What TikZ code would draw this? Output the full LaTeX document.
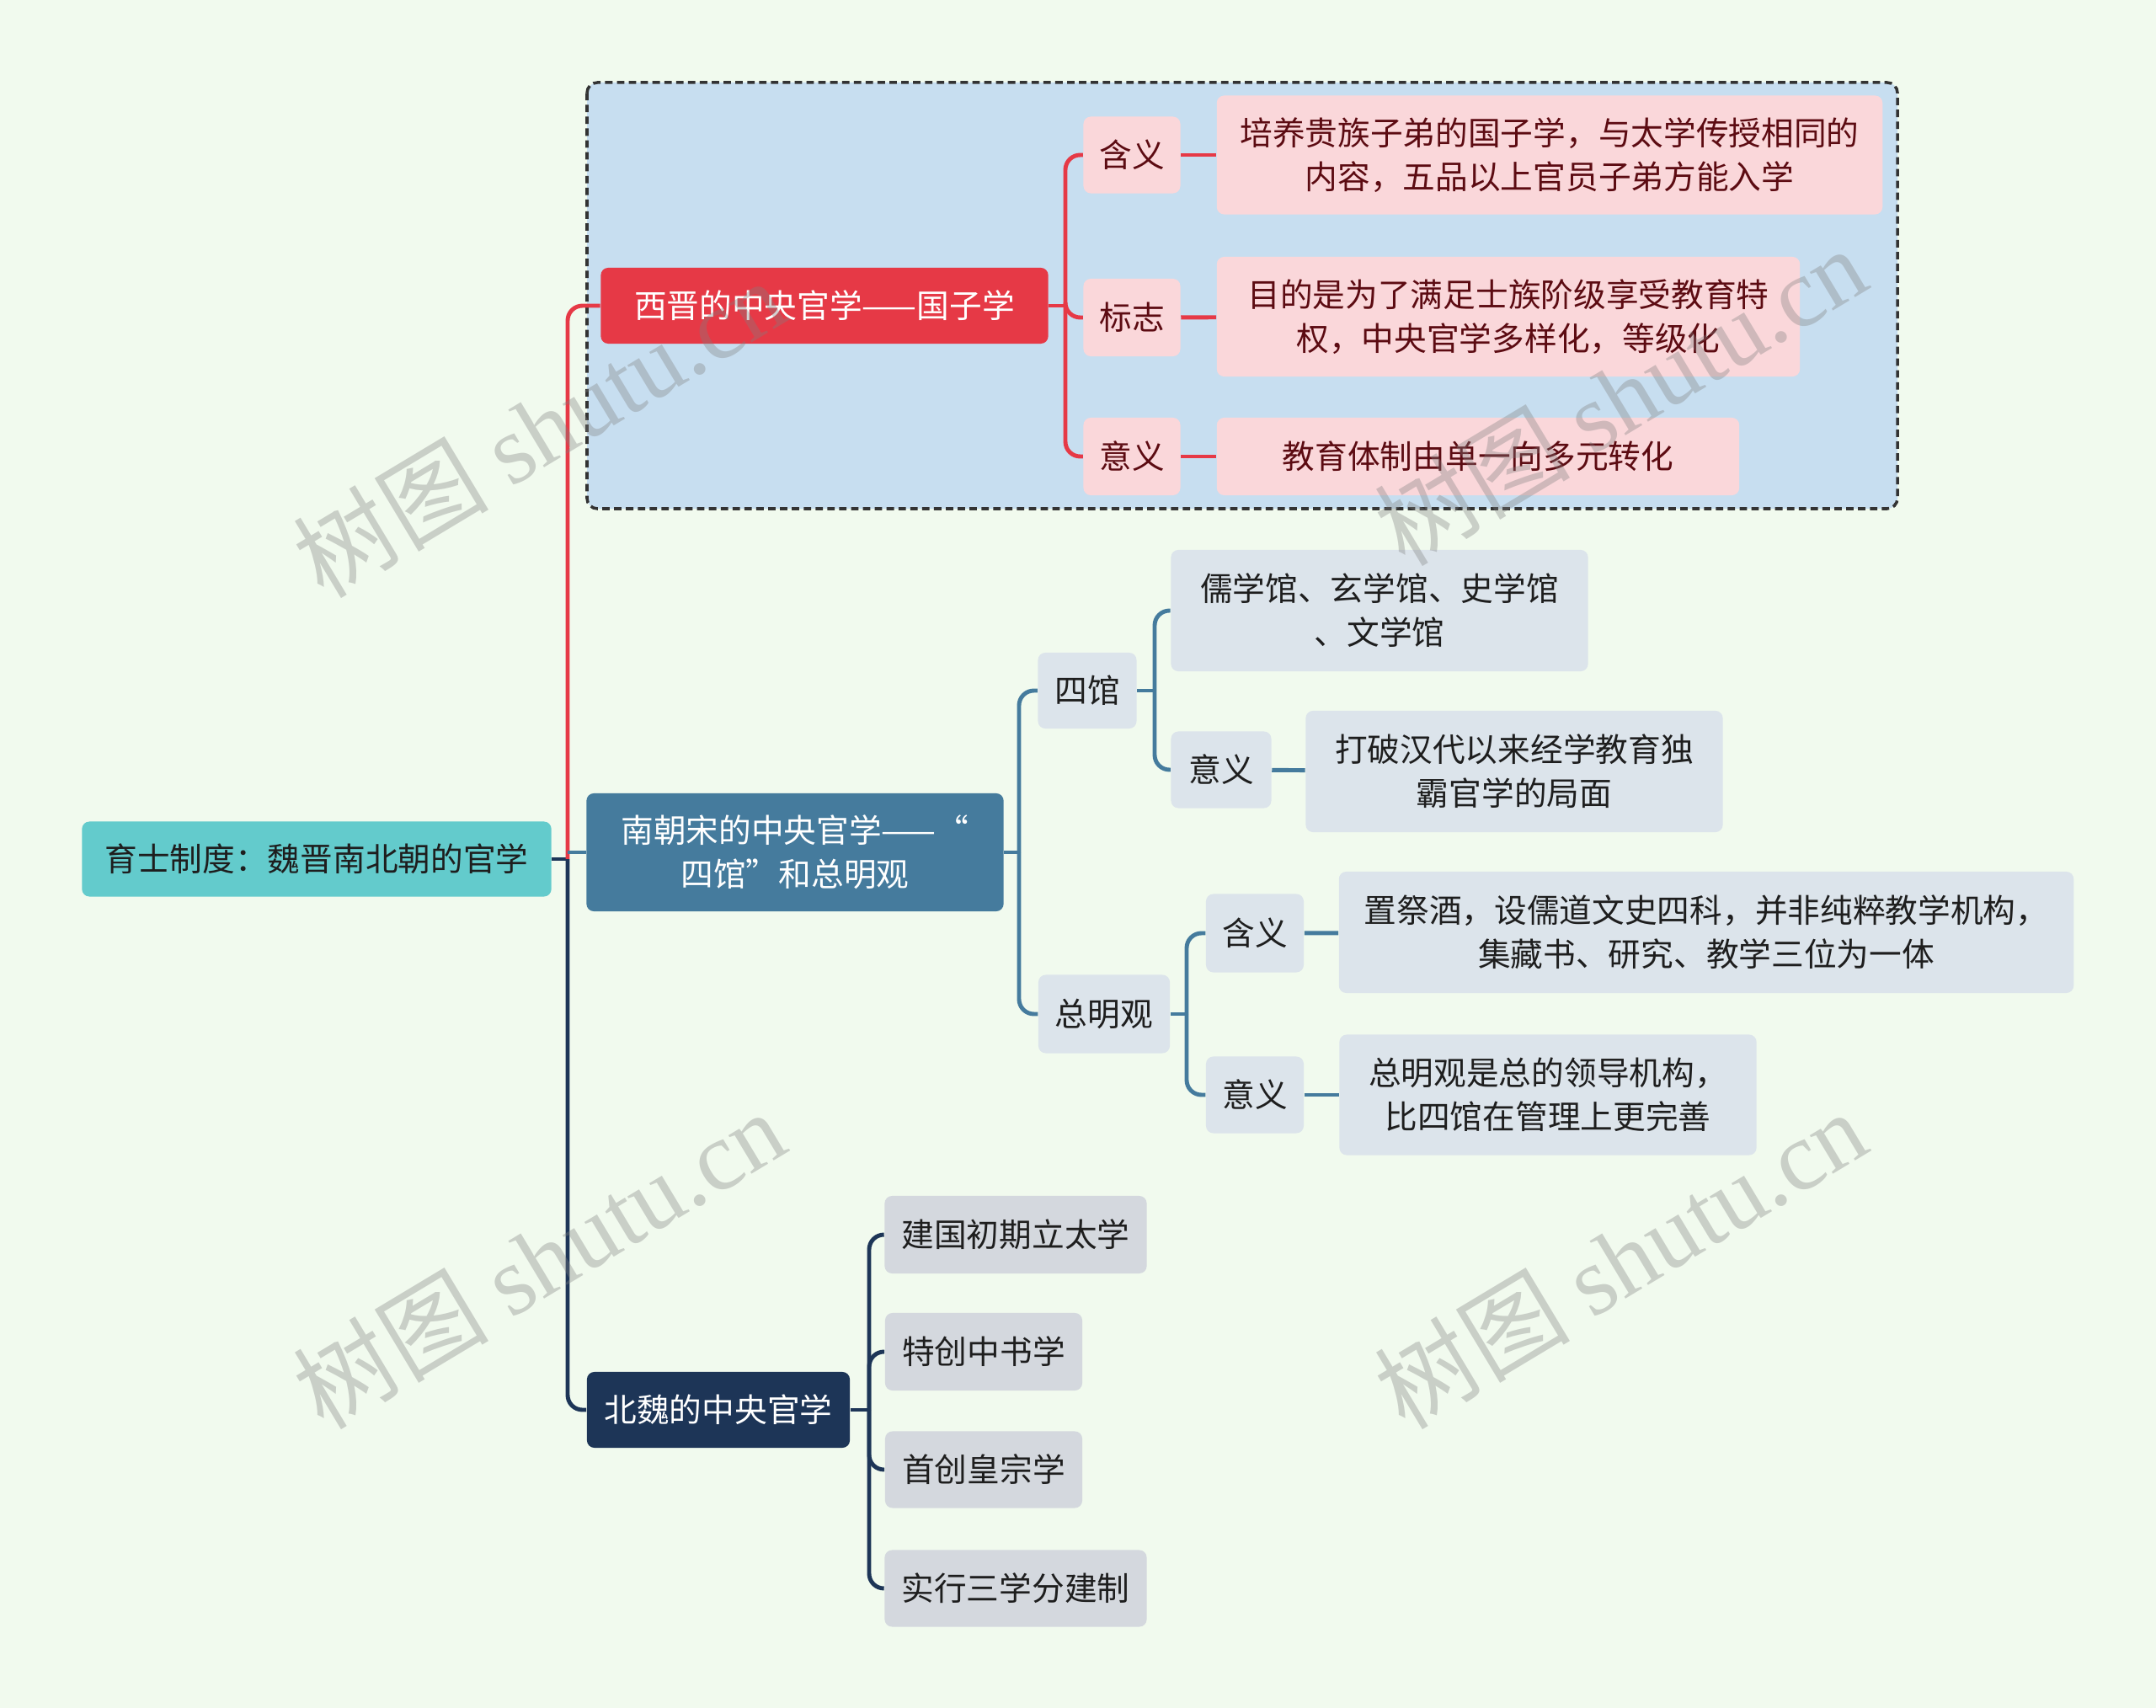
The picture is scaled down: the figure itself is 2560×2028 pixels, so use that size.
\documentclass[tikz,border=0pt]{standalone}
\usepackage{fontspec}
\setmainfont{Noto Sans CJK SC}
\newfontfamily\wmlatin{Liberation Serif}
\usetikzlibrary{positioning,calc}
\definecolor{bgcol}{HTML}{F1FAEE}
\definecolor{rootcol}{HTML}{63CBCC}
\definecolor{redcol}{HTML}{E63946}
\definecolor{steelcol}{HTML}{457B9D}
\definecolor{navycol}{HTML}{1D3557}
\definecolor{pinkcol}{HTML}{FAD7DA}
\definecolor{darkred}{HTML}{5C0B12}
\definecolor{boxblue}{HTML}{C7DEF0}
\definecolor{slatecol}{HTML}{DCE4EB}
\definecolor{greycol}{HTML}{D4D8DE}
\definecolor{inkcol}{HTML}{1E1E1E}
\tikzset{
  topic/.style={rounded corners=2.5pt, align=center, inner sep=0pt,
    font=\fontsize{11}{14.8}\selectfont},
  roottopic/.style={topic, fill=rootcol, text=inkcol},
  redtopic/.style={topic, fill=redcol, text=white},
  steeltopic/.style={topic, fill=steelcol, text=white},
  navytopic/.style={topic, fill=navycol, text=white},
  pinkleaf/.style={topic, fill=pinkcol, text=darkred},
  slateleaf/.style={topic, fill=slatecol, text=inkcol},
  greyleaf/.style={topic, fill=greycol, text=inkcol},
  link/.style={line width=1.4pt, rounded corners=5pt},
  watermark/.style={text=gray, opacity=0.35, rotate=31,
    font=\fontsize{33}{33}\selectfont},
}

\begin{document}
\begin{tikzpicture}[x=0.01cm, y=-0.01cm]
  \useasboundingbox[fill=bgcol] (0,0) rectangle (2560,2028);

  % frame round the first branch
  \draw[fill=boxblue, draw=black!80, line width=1pt, dash pattern=on 2.5pt off 1.5pt,
    rounded corners=3.5pt] (697,98) rectangle (2253,604);

  % root and main branches
  \node[roottopic, minimum width=5.57cm, minimum height=0.89cm] (root) at (376,1020) {育士制度：魏晋南北朝的官学};
  \node[redtopic, minimum width=5.31cm, minimum height=0.90cm] (xj) at (979,363) {西晋的中央官学——国子学};
  \node[steeltopic, minimum width=4.95cm, minimum height=1.40cm] (nc) at (944,1012) {南朝宋的中央官学——“\\四馆”和总明观};
  \node[navytopic, minimum width=3.12cm, minimum height=0.90cm] (bw) at (853,1674) {北魏的中央官学};

  % 西晋
  \node[pinkleaf, minimum width=1.15cm, minimum height=0.91cm] (xjhy) at (1344,184) {含义};
  \node[pinkleaf, minimum width=7.90cm, minimum height=1.41cm] (xjhyt) at (1840,184) {培养贵族子弟的国子学，与太学传授相同的\\内容，五品以上官员子弟方能入学};
  \node[pinkleaf, minimum width=1.15cm, minimum height=0.92cm] (xjbz) at (1344,377) {标志};
  \node[pinkleaf, minimum width=6.92cm, minimum height=1.42cm] (xjbzt) at (1791,376) {目的是为了满足士族阶级享受教育特\\权，中央官学多样化，等级化};
  \node[pinkleaf, minimum width=1.15cm, minimum height=0.92cm] (xjyy) at (1344,542) {意义};
  \node[pinkleaf, minimum width=6.20cm, minimum height=0.92cm] (xjyyt) at (1755,542) {教育体制由单一向多元转化};

  % 南朝宋
  \node[slateleaf, minimum width=1.17cm, minimum height=0.90cm] (sg) at (1291,820) {四馆};
  \node[slateleaf, minimum width=4.95cm, minimum height=1.44cm] (sgt) at (1638,725) {儒学馆、玄学馆、史学馆\\、文学馆};
  \node[slateleaf, minimum width=1.19cm, minimum height=0.91cm] (sgyy) at (1450,914) {意义};
  \node[slateleaf, minimum width=4.95cm, minimum height=1.44cm] (sgyyt) at (1798,916) {打破汉代以来经学教育独\\霸官学的局面};
  \node[slateleaf, minimum width=1.56cm, minimum height=0.93cm] (zm) at (1311,1204) {总明观};
  \node[slateleaf, minimum width=1.16cm, minimum height=0.93cm] (zmhy) at (1490,1108) {含义};
  \node[slateleaf, minimum width=8.72cm, minimum height=1.44cm] (zmhyt) at (2026,1107) {置祭酒，设儒道文史四科，并非纯粹教学机构，\\集藏书、研究、教学三位为一体};
  \node[slateleaf, minimum width=1.16cm, minimum height=0.91cm] (zmyy) at (1490,1300) {意义};
  \node[slateleaf, minimum width=4.95cm, minimum height=1.43cm] (zmyyt) at (1838,1300) {总明观是总的领导机构，\\比四馆在管理上更完善};

  % 北魏
  \node[greyleaf, minimum width=3.11cm, minimum height=0.92cm] (bwa) at (1206,1466) {建国初期立太学};
  \node[greyleaf, minimum width=2.34cm, minimum height=0.92cm] (bwb) at (1168,1605) {特创中书学};
  \node[greyleaf, minimum width=2.34cm, minimum height=0.91cm] (bwc) at (1168,1745) {首创皇宗学};
  \node[greyleaf, minimum width=3.11cm, minimum height=0.91cm] (bwd) at (1206,1886) {实行三学分建制};

  % bus points
  \coordinate (b0) at (674,1020);
  \coordinate (bxj) at (1265,363);
  \coordinate (bnc) at (1210,1012);
  \coordinate (bsg) at (1371,820);
  \coordinate (bzm) at (1409,1204);
  \coordinate (bbw) at (1032,1674);

  % connectors
  \draw[link, navycol] (root.east) -- (b0);
  \draw[link, redcol] (b0) |- (xj.west);
  \draw[link, steelcol] (nc.west -| b0) -- (nc.west);
  \draw[link, navycol] (b0) |- (bw.west);

  \draw[link, redcol] (xj.east) -- (bxj);
  \foreach \c in {xjhy, xjbz, xjyy}
    \draw[link, redcol] (bxj) |- (\c.west);
  \draw[link, redcol] (xjhy) -- (xjhyt);
  \draw[link, redcol] (xjbz) -- (xjbzt);
  \draw[link, redcol] (xjyy) -- (xjyyt);

  \draw[link, steelcol] (nc.east) -- (bnc);
  \foreach \c in {sg, zm}
    \draw[link, steelcol] (bnc) |- (\c.west);
  \draw[link, steelcol] (sg.east) -- (bsg);
  \draw[link, steelcol] (bsg) |- (sgt.west);
  \draw[link, steelcol] (bsg) |- (sgyy.west);
  \draw[link, steelcol] (sgyy) -- (sgyyt);
  \draw[link, steelcol] (zm.east) -- (bzm);
  \draw[link, steelcol] (bzm) |- (zmhy.west);
  \draw[link, steelcol] (bzm) |- (zmyy.west);
  \draw[link, steelcol] (zmhy) -- (zmhyt);
  \draw[link, steelcol] (zmyy) -- (zmyyt);

  \draw[link, navycol] (bw.east) -- (bbw);
  \foreach \c in {bwa, bwb, bwc, bwd}
    \draw[link, navycol] (bbw) |- (\c.west);

  % watermarks
  \node[watermark] (wma) at (640,508) {树图 {\wmlatin shutu.cn}};
  \node[watermark] (wmb) at (1924,470) {树图 {\wmlatin shutu.cn}};
  \node[watermark] (wmc) at (640,1495) {树图 {\wmlatin shutu.cn}};
  \node[watermark] (wmd) at (1924,1495) {树图 {\wmlatin shutu.cn}};
\end{tikzpicture}
\end{document}
